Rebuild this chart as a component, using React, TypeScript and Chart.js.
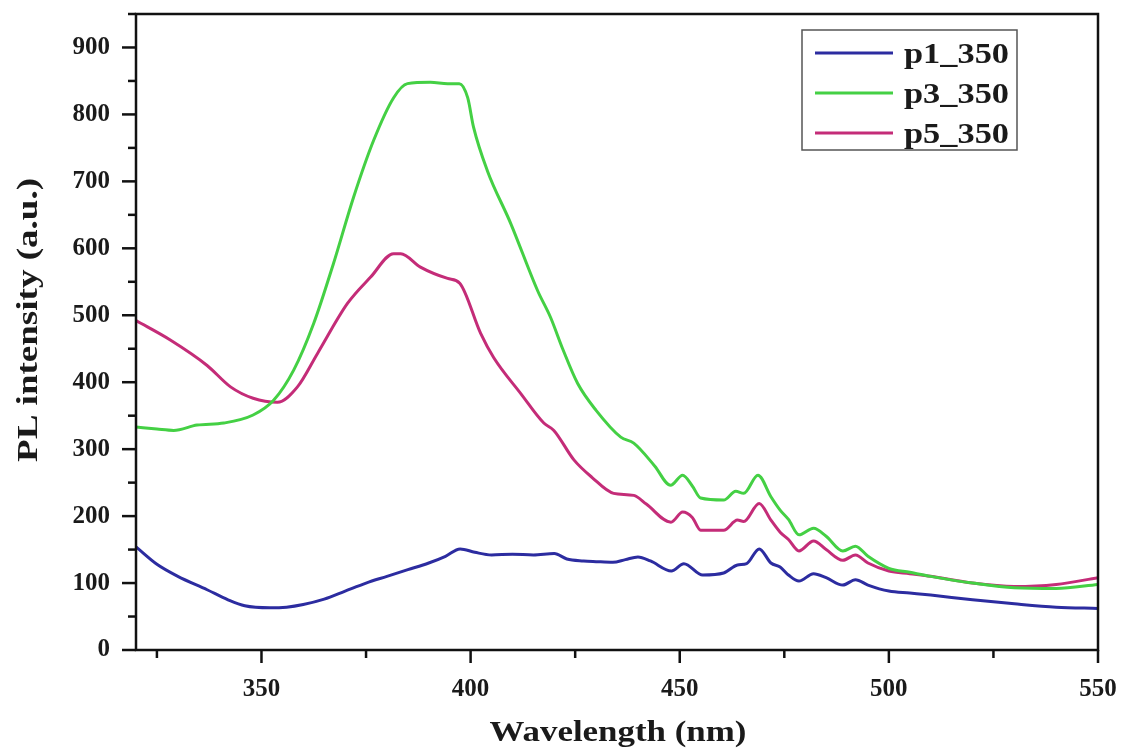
import React, { useEffect, useRef } from 'react';
import { Chart, registerables } from 'chart.js';
Chart.register(...registerables);

const xTickValues = [350, 400, 450, 500, 550];
const yTickValues = [0, 100, 200, 300, 400, 500, 600, 700, 800, 900];

const seriesLabels = ['p1_350', 'p3_350', 'p5_350'];
const seriesColors = ['#2c2ca0', '#44d044', '#c42c78'];

const p1Wavelength = [320, 325, 330, 337, 342, 346, 352, 356, 360, 365, 370, 375, 380, 385, 390, 394, 397.5, 401, 405, 410, 415, 420, 423, 427, 430, 434, 437, 440, 443, 448, 451, 455.5, 460.5, 463.8, 466, 469, 471.8, 474, 476, 478.5, 482, 485, 489, 492, 495, 500, 505, 510, 520, 530, 540, 550];
const p1Intensity = [154, 128, 110, 90, 75, 66, 63, 64, 68, 76, 88, 100, 110, 120, 130, 140, 151, 146, 142, 143, 142, 144, 136, 133, 132, 131, 135, 139, 133, 118, 129, 112, 115, 127, 129, 151, 130, 124, 112, 103, 114, 108, 97, 105, 97, 88, 85, 82, 75, 69, 64, 62];

const p3Wavelength = [320, 325, 329, 334.6, 341, 348, 352.9, 357.7, 362.5, 367.2, 372, 376.8, 381.6, 384.9, 390.4, 394.5, 397.3, 399.3, 400.7, 404, 409.6, 416, 419.1, 422, 425.6, 430, 435.9, 439, 444, 447.8, 450.7, 453, 455, 460.5, 463.4, 465.3, 468.7, 471.8, 474, 476, 478.5, 482, 485, 489, 492, 495, 500, 505, 510, 520, 530, 540, 550];
const p3Intensity = [333, 330, 328, 336, 339, 351, 373, 418, 488, 577, 676, 761, 825, 846, 848, 846, 846, 825, 781, 716, 637, 537, 497, 450, 398, 358, 318, 309, 275, 246, 261, 245, 227, 224, 237, 234, 261, 229, 209, 195, 172, 182, 170, 148, 155, 140, 122, 116, 110, 100, 93, 92, 98];

const p5Wavelength = [320, 328.2, 337, 342.6, 348, 353.8, 358.6, 363.4, 370.6, 376.1, 381.6, 383.3, 388, 394.5, 397.4, 402.4, 405.5, 412, 417.5, 419.9, 424.7, 429, 434.2, 439, 442, 447.9, 450.7, 453, 455, 460.5, 463.8, 465.3, 469, 471.8, 474, 476, 478.5, 482, 485, 489, 492, 495, 500, 505, 510, 520, 530, 540, 550];
const p5Intensity = [492, 463, 425, 393, 376, 370, 393, 443, 518, 557, 592, 592, 572, 555, 548, 473, 437, 383, 339, 328, 284, 258, 234, 231, 218, 191, 206, 198, 179, 179, 194, 192, 219, 194, 176, 165, 148, 163, 150, 134, 142, 130, 118, 114, 110, 100, 95, 98, 108];

const xTitle = 'Wavelength (nm)';
const yTitle = 'PL intensity (a.u.)';

const toPoints = (xs: number[], ys: number[]) => xs.map((x, i) => ({ x, y: ys[i] }));

const FONT = "'Liberation Serif', 'Times New Roman', serif";

function drawStretched(ctx: CanvasRenderingContext2D, text: string, cx: number, cy: number, font: string, targetW: number, rotate: number) {
  ctx.save();
  ctx.font = font;
  const w = ctx.measureText(text).width;
  ctx.translate(cx, cy);
  ctx.rotate(rotate);
  ctx.scale(targetW / w, 1);
  ctx.textAlign = 'center';
  ctx.textBaseline = 'middle';
  ctx.fillText(text, 0, 0);
  ctx.restore();
}

const framePlugin = {
  id: 'frame',
  afterDraw(chart: any) {
    const { ctx, chartArea } = chart;
    const { left, top, right, bottom } = chartArea;
    const xs = chart.scales.x;
    const ys = chart.scales.y;
    ctx.save();
    ctx.strokeStyle = '#111';
    ctx.lineWidth = 2.5;
    ctx.strokeRect(left, top, right - left, bottom - top);
    ctx.lineWidth = 2.5;
    for (let v = 0; v <= 950; v += 50) {
      const py = ys.getPixelForValue(v);
      const len = v % 100 === 0 ? 14 : 8;
      ctx.beginPath();
      ctx.moveTo(left - len, py);
      ctx.lineTo(left, py);
      ctx.stroke();
    }
    for (let v = 325; v <= 550; v += 25) {
      const px = xs.getPixelForValue(v);
      const len = v % 50 === 0 ? 13 : 8;
      ctx.beginPath();
      ctx.moveTo(px, bottom);
      ctx.lineTo(px, bottom + len);
      ctx.stroke();
    }
    ctx.fillStyle = '#1a1a1a';
    drawStretched(ctx, xTitle, 618, 733, `bold 30px ${FONT}`, 257, 0);
    drawStretched(ctx, yTitle, 29, 320, `bold 30px ${FONT}`, 284, -Math.PI / 2);

    // legend
    const bx = 802, by = 30, bw = 215, bh = 120;
    ctx.fillStyle = '#fff';
    ctx.fillRect(bx, by, bw, bh);
    ctx.strokeStyle = '#555';
    ctx.lineWidth = 1.5;
    ctx.strokeRect(bx, by, bw, bh);
    chart.data.datasets.forEach((ds: any, i: number) => {
      const ry = 53 + i * 40;
      ctx.strokeStyle = ds.borderColor;
      ctx.lineWidth = 3;
      ctx.beginPath();
      ctx.moveTo(815, ry);
      ctx.lineTo(893, ry);
      ctx.stroke();
      ctx.save();
      ctx.font = `bold 30px ${FONT}`;
      ctx.fillStyle = '#1a1a1a';
      const w = ctx.measureText(ds.label).width;
      ctx.translate(904, ry + 2);
      ctx.scale(105 / w, 1);
      ctx.textAlign = 'left';
      ctx.textBaseline = 'middle';
      ctx.fillText(ds.label, 0, 0);
      ctx.restore();
    });
    ctx.restore();
  },
};

export default function App() {
  const ref = useRef<HTMLCanvasElement | null>(null);
  useEffect(() => {
    document.body.style.margin = '0';
    const canvas = ref.current;
    if (!canvas) return;
    const xsArr = [p1Wavelength, p3Wavelength, p5Wavelength];
    const ysArr = [p1Intensity, p3Intensity, p5Intensity];
    const chart = new Chart(canvas, {
      type: 'line',
      data: {
        datasets: seriesLabels.map((label, i) => ({
          label,
          data: toPoints(xsArr[i], ysArr[i]),
          borderColor: seriesColors[i],
          backgroundColor: seriesColors[i],
          borderWidth: 3,
          pointRadius: 0,
          cubicInterpolationMode: 'monotone' as const,
          fill: false,
        })),
      },
      options: {
        responsive: false,
        maintainAspectRatio: false,
        animation: false,
        events: [],
        layout: { padding: { top: 14, right: 27, left: 0, bottom: 0 } },
        plugins: { legend: { display: false }, tooltip: { enabled: false } },
        scales: {
          x: {
            type: 'linear',
            min: 320,
            max: 550,
            grid: { display: false, drawTicks: false },
            border: { display: false },
            afterBuildTicks: (s: any) => { s.ticks = xTickValues.map((value) => ({ value })); },
            afterFit: (s: any) => { s.height = 103; s.paddingLeft = 0; s.paddingRight = 0; },
            ticks: {
              padding: 25,
              color: '#1a1a1a',
              font: { family: FONT, weight: 'bold', size: 25 },
              maxRotation: 0,
              autoSkip: false,
            },
          },
          y: {
            type: 'linear',
            min: 0,
            max: 950,
            grid: { display: false, drawTicks: false },
            border: { display: false },
            afterBuildTicks: (s: any) => { s.ticks = yTickValues.map((value) => ({ value })); },
            afterFit: (s: any) => { s.width = 136; s.paddingTop = 0; s.paddingBottom = 0; },
            ticks: {
              padding: 26,
              color: '#1a1a1a',
              font: { family: FONT, weight: 'bold', size: 25 },
              autoSkip: false,
            },
          },
        },
      },
      plugins: [framePlugin],
    });
    return () => chart.destroy();
  }, []);
  return <canvas ref={ref} width={1125} height={753} style={{ display: 'block', width: 1125, height: 753 }} />;
}
